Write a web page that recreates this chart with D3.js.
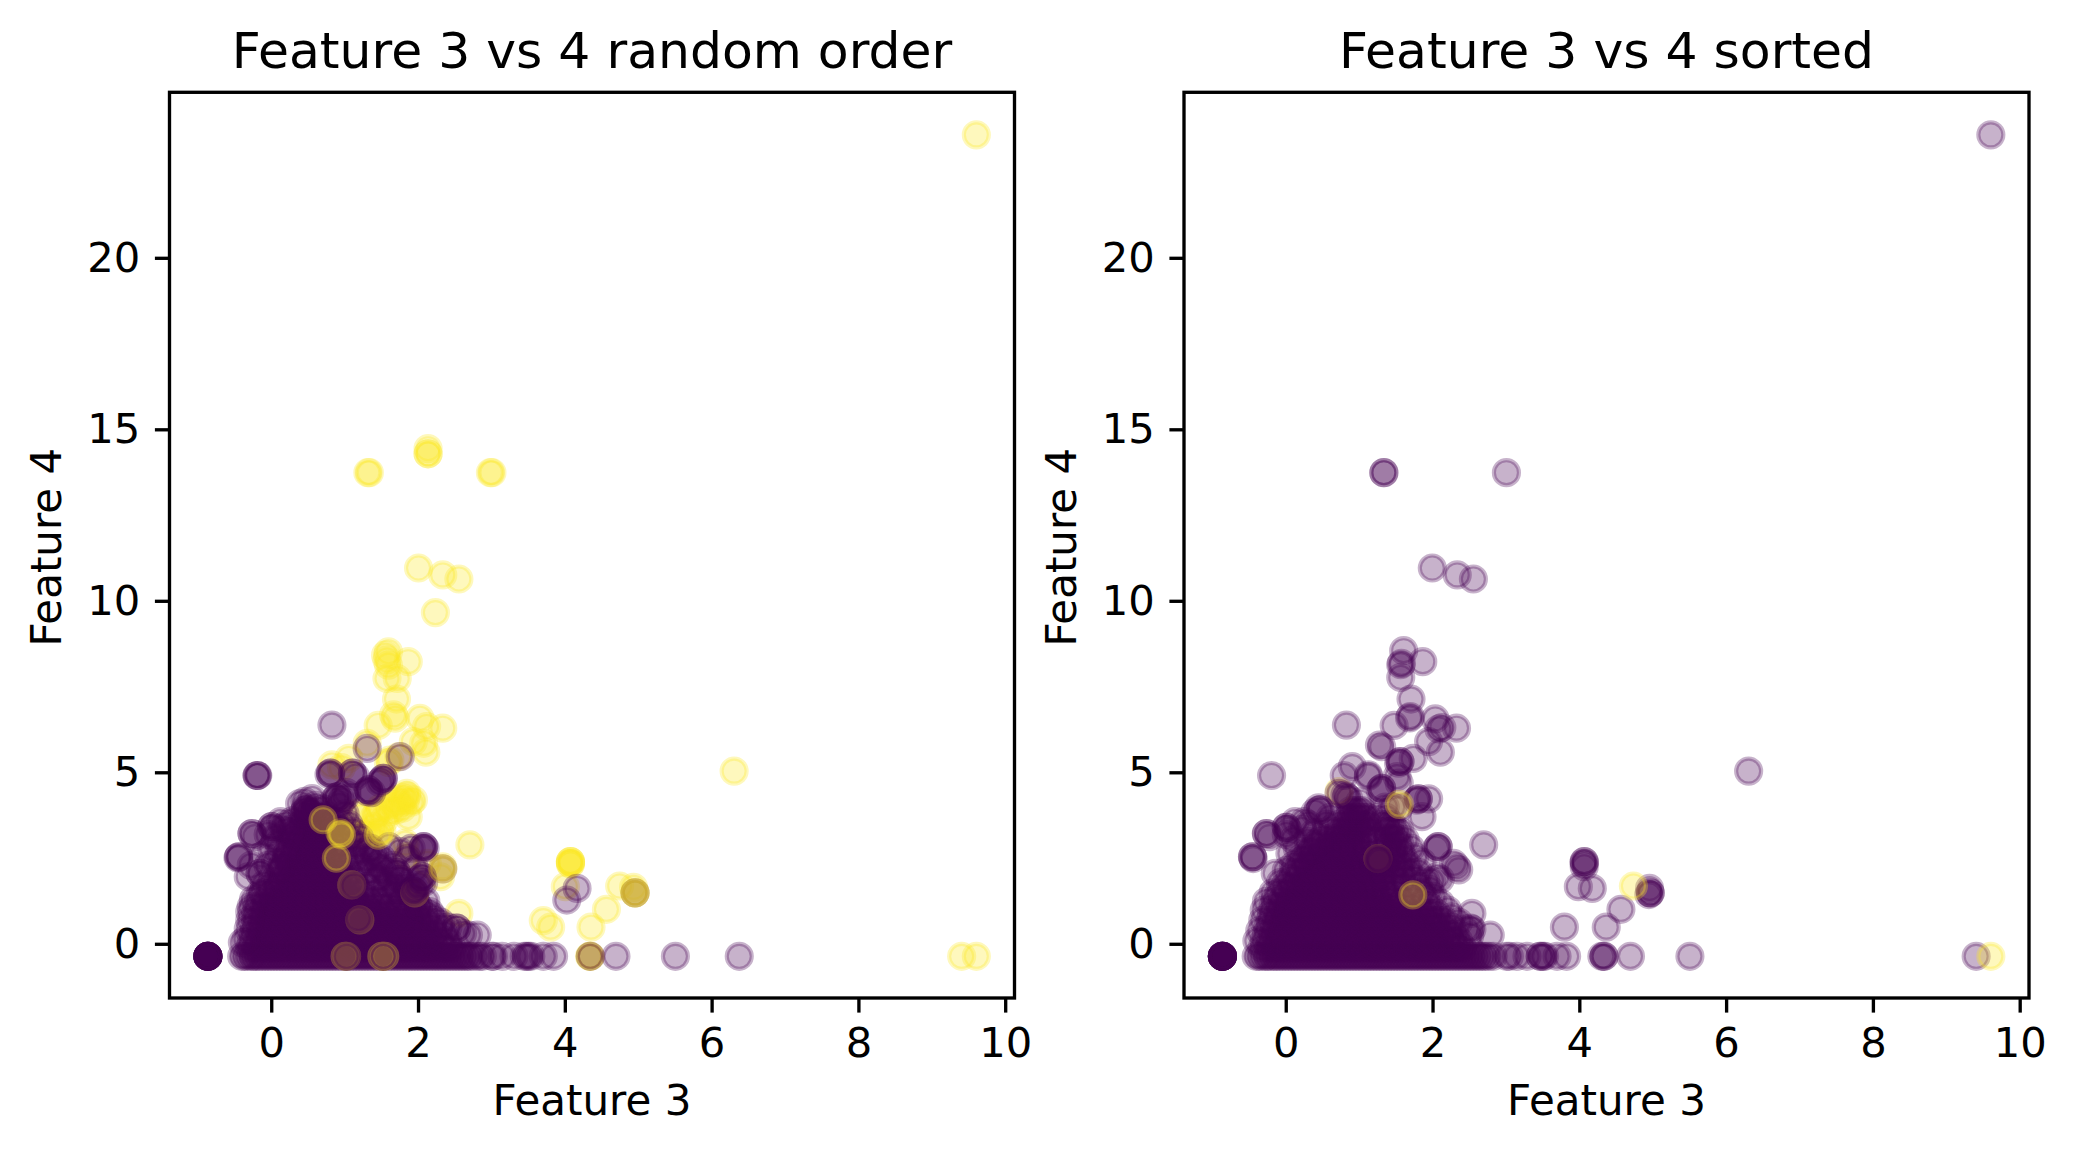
<!DOCTYPE html>
<html>
  <head>
    <meta charset="utf-8">
    <title>Feature 3 vs 4</title>
    <style>
      body { margin: 0; background: #fff; }
      text { font-family: "DejaVu Sans"; fill: #000; }
    </style>
  </head>
  <body>
    <script src="https://d3js.org/d3.v7.min.js"></script>
    <svg id="chart" width="2075" height="1154"></svg>
    <script>
      // values: [feature 3, feature 4]
      const xTicks = [0, 2, 4, 6, 8, 10]
      const yTicks = [0, 5, 10, 15, 20]
      const xDomain = [-1.393, 10.12]
      const yDomain = [-1.566, 24.84]

      // the rows of the dense mass: one feature 4 level, then its feature 3 values
      const coreLevels = [-0.1, 0.1, 0.3, 0.5, 0.7, 0.9, 1.1, 1.3, 1.5, 1.7, 1.9, 2.1, 2.3, 2.5, 2.7, 2.9, 3.1, 3.3, 3.5, 3.7, 3.9]

      const baseline = [-0.41, -0.37, -0.33, -0.28, -0.25, -0.21, -0.17, -0.13, -0.09, -0.05, -0.01, 0.03, 0.07, 0.11, 0.15, 0.19, 0.23, 0.27, 0.31, 0.35, 0.39, 0.43, 0.47, 0.51, 0.55, 0.59, 0.63, 0.67, 0.71, 0.75, 0.79, 0.83, 0.87, 0.91, 0.95, 0.99, 1.03, 1.07, 1.11, 1.15, 1.19, 1.23, 1.27, 1.31, 1.35, 1.39, 1.43, 1.47, 1.51, 1.55, 1.59, 1.63, 1.67, 1.71, 1.75, 1.79, 1.83, 1.87, 1.91, 1.95, 1.99, 2.03, 2.07, 2.11, 2.15, 2.19, 2.23, 2.27, 2.31, 2.35, 2.39, 2.43, 2.47, 2.51, 2.55, 2.59, 2.63, 2.67, 2.71]
      const lowLeft = [-0.87, -0.87, -0.87, -0.87, -0.87, -0.87, -0.87, -0.87, -0.87, -0.87, -0.87, -0.87, -0.87, -0.87]

      const leftCore = [
        [-0.3, -0.22, -0.13, -0.04, 0.05, 0.14, 0.23, 0.33, 0.42, 0.51, 0.6, 0.69, 0.78, 0.88, 0.97, 1.06, 1.15, 1.24, 1.33, 1.43, 1.52, 1.61, 1.7, 1.8, 1.89, 1.98, 2.07, 2.16, 2.26, 2.35, 2.45],
        [-0.28, -0.19, -0.1, -0.01, 0.08, 0.17, 0.26, 0.36, 0.45, 0.54, 0.63, 0.72, 0.81, 0.91, 1.0, 1.09, 1.18, 1.27, 1.37, 1.46, 1.55, 1.64, 1.73, 1.83, 1.92, 2.01, 2.1, 2.19, 2.29, 2.4],
        [-0.25, -0.16, -0.07, 0.02, 0.11, 0.2, 0.3, 0.39, 0.48, 0.57, 0.66, 0.75, 0.85, 0.94, 1.03, 1.12, 1.21, 1.3, 1.4, 1.49, 1.58, 1.67, 1.76, 1.86, 1.95, 2.04, 2.13, 2.23, 2.35],
        [-0.24, -0.15, -0.06, 0.03, 0.12, 0.22, 0.31, 0.4, 0.49, 0.58, 0.68, 0.77, 0.86, 0.95, 1.04, 1.14, 1.23, 1.32, 1.41, 1.5, 1.6, 1.69, 1.78, 1.87, 1.97, 2.06, 2.18, 2.3],
        [-0.22, -0.13, -0.04, 0.06, 0.15, 0.24, 0.33, 0.42, 0.52, 0.61, 0.7, 0.79, 0.88, 0.98, 1.07, 1.16, 1.25, 1.34, 1.44, 1.53, 1.62, 1.71, 1.8, 1.9, 2.0, 2.1, 2.2],
        [-0.22, -0.12, -0.03, 0.07, 0.16, 0.25, 0.34, 0.44, 0.53, 0.62, 0.71, 0.81, 0.9, 0.99, 1.08, 1.18, 1.27, 1.36, 1.45, 1.55, 1.64, 1.74, 1.85, 1.97, 2.1],
        [-0.2, -0.1, 0.0, 0.09, 0.18, 0.28, 0.37, 0.46, 0.56, 0.65, 0.74, 0.84, 0.93, 1.02, 1.12, 1.21, 1.31, 1.4, 1.5, 1.6, 1.72, 1.86, 2.0],
        [-0.18, -0.08, 0.02, 0.11, 0.2, 0.3, 0.39, 0.48, 0.58, 0.67, 0.76, 0.86, 0.95, 1.05, 1.14, 1.24, 1.34, 1.46, 1.6, 1.78, 1.95],
        [-0.12, -0.02, 0.07, 0.17, 0.26, 0.36, 0.45, 0.55, 0.64, 0.74, 0.83, 0.93, 1.02, 1.12, 1.22, 1.36, 1.54, 1.72, 1.9],
        [-0.02, 0.07, 0.17, 0.26, 0.36, 0.45, 0.55, 0.64, 0.74, 0.83, 0.93, 1.03, 1.14, 1.3, 1.68, 1.85],
        [0.05, 0.14, 0.24, 0.33, 0.43, 0.52, 0.62, 0.71, 0.81, 0.9, 1.0, 1.12, 1.42, 1.62, 1.75],
        [0.1, 0.2, 0.29, 0.39, 0.48, 0.58, 0.67, 0.77, 0.86, 0.96, 1.08, 1.28, 1.55, 1.7],
        [0.15, 0.24, 0.34, 0.43, 0.53, 0.62, 0.72, 0.81, 0.91, 1.02, 1.22, 1.45],
        [0.2, 0.29, 0.39, 0.48, 0.58, 0.67, 0.77, 0.86, 0.98, 1.15, 1.4],
        [0.22, 0.32, 0.41, 0.51, 0.6, 0.7, 0.8, 0.92, 1.12, 1.3],
        [0.25, 0.35, 0.45, 0.54, 0.64, 0.73, 0.84, 0.98, 1.15],
        [0.3, 0.4, 0.49, 0.59, 0.68, 0.78, 0.9, 1.05],
        [0.35, 0.44, 0.54, 0.63, 0.73, 0.84, 0.95],
        [0.4, 0.5, 0.58, 0.68, 0.76, 0.85],
        [0.47, 0.55, 0.65],
        []
      ]

      const rightCore = [
        [-0.33, -0.24, -0.15, -0.06, 0.03, 0.12, 0.21, 0.31, 0.4, 0.49, 0.58, 0.67, 0.76, 0.86, 0.95, 1.04, 1.13, 1.22, 1.31, 1.41, 1.5, 1.59, 1.68, 1.78, 1.87, 1.96, 2.05, 2.14, 2.24, 2.32, 2.4],
        [-0.3, -0.21, -0.12, -0.03, 0.06, 0.15, 0.25, 0.34, 0.43, 0.52, 0.61, 0.71, 0.8, 0.89, 0.98, 1.07, 1.17, 1.26, 1.35, 1.44, 1.53, 1.63, 1.72, 1.81, 1.9, 1.99, 2.09, 2.18, 2.27, 2.35],
        [-0.27, -0.18, -0.09, 0.0, 0.09, 0.19, 0.28, 0.37, 0.46, 0.55, 0.65, 0.74, 0.83, 0.92, 1.01, 1.11, 1.2, 1.29, 1.38, 1.47, 1.57, 1.66, 1.75, 1.84, 1.93, 2.03, 2.12, 2.22, 2.3],
        [-0.25, -0.16, -0.07, 0.03, 0.12, 0.21, 0.3, 0.39, 0.49, 0.58, 0.67, 0.76, 0.85, 0.95, 1.04, 1.13, 1.22, 1.31, 1.41, 1.5, 1.59, 1.68, 1.77, 1.87, 1.96, 2.05, 2.15, 2.25],
        [-0.22, -0.13, -0.03, 0.06, 0.15, 0.24, 0.34, 0.43, 0.52, 0.61, 0.71, 0.8, 0.89, 0.98, 1.08, 1.17, 1.26, 1.35, 1.45, 1.54, 1.63, 1.72, 1.82, 1.91, 2.0, 2.08, 2.15],
        [-0.2, -0.11, -0.01, 0.08, 0.17, 0.27, 0.36, 0.45, 0.55, 0.64, 0.73, 0.83, 0.92, 1.01, 1.11, 1.2, 1.29, 1.39, 1.48, 1.57, 1.67, 1.76, 1.86, 1.96, 2.05],
        [-0.18, -0.08, 0.01, 0.11, 0.2, 0.29, 0.39, 0.48, 0.57, 0.67, 0.76, 0.85, 0.95, 1.04, 1.13, 1.23, 1.32, 1.41, 1.51, 1.6, 1.7, 1.82, 1.95],
        [-0.15, -0.05, 0.04, 0.14, 0.23, 0.33, 0.42, 0.51, 0.61, 0.7, 0.79, 0.89, 0.98, 1.07, 1.17, 1.26, 1.36, 1.46, 1.58, 1.72, 1.9],
        [-0.1, 0.0, 0.09, 0.19, 0.28, 0.38, 0.47, 0.57, 0.66, 0.76, 0.85, 0.95, 1.04, 1.14, 1.24, 1.35, 1.48, 1.68, 1.85],
        [-0.02, 0.08, 0.17, 0.27, 0.36, 0.46, 0.55, 0.65, 0.74, 0.84, 0.93, 1.03, 1.12, 1.22, 1.33, 1.47, 1.62, 1.8],
        [0.05, 0.15, 0.25, 0.34, 0.44, 0.53, 0.63, 0.72, 0.82, 0.91, 1.01, 1.1, 1.2, 1.32, 1.48, 1.6, 1.75],
        [0.1, 0.2, 0.3, 0.39, 0.49, 0.58, 0.68, 0.77, 0.87, 0.96, 1.06, 1.16, 1.3, 1.44, 1.56, 1.67],
        [0.18, 0.27, 0.37, 0.47, 0.56, 0.66, 0.75, 0.85, 0.95, 1.05, 1.17, 1.35, 1.46, 1.56, 1.66],
        [0.25, 0.35, 0.44, 0.54, 0.63, 0.73, 0.82, 0.92, 1.02, 1.14, 1.38, 1.48, 1.6],
        [0.3, 0.4, 0.49, 0.59, 0.68, 0.78, 0.88, 0.98, 1.08, 1.36, 1.46, 1.56],
        [0.4, 0.5, 0.59, 0.69, 0.78, 0.88, 0.98, 1.08, 1.38, 1.47, 1.55],
        [0.5, 0.6, 0.69, 0.78, 0.87, 0.97, 1.06, 1.38, 1.45, 1.5],
        [0.62, 0.71, 0.8, 0.9, 0.98, 1.06, 1.36, 1.42, 1.5],
        [0.72, 0.8, 0.88, 0.95, 1.03, 1.1, 1.38, 1.44],
        [0.8, 0.86, 0.92, 0.98, 1.04, 1.1, 1.36],
        [0.88, 0.93, 0.98, 1.03]
      ]

      // thinner cloud round the edge of the mass
      const leftHalo = [
        [-0.05, 3.2], [0.05, 3.1], [0.1, 2.95], [0.0, 2.8], [0.1, 2.7], [0.18, 3.3], [0.28, 3.6], [0.15, 3.4], [0.3, 3.2], [0.2, 2.6],
        [0.05, 2.4], [-0.05, 2.3], [0.12, 2.2], [-0.1, 1.75], [-0.15, 1.5], [-0.25, 1.3], [-0.28, 1.1], [-0.3, 0.95], [-0.3, 0.7], [-0.32, 0.45],
        [-0.35, 0.15], [-0.4, 0.05], [0.6, 4.05], [0.7, 3.95], [0.55, 3.85], [0.75, 3.75], [0.85, 3.6], [0.95, 3.55], [1.0, 3.8], [1.05, 3.5],
        [1.1, 3.3], [0.65, 3.7], [0.8, 3.45], [0.9, 3.35], [1.2, 3.1], [1.25, 2.9], [1.35, 2.8], [1.4, 2.65], [1.3, 2.5], [1.5, 2.5],
        [1.6, 2.85], [1.5, 2.2], [1.65, 2.3], [1.7, 2.1], [1.75, 1.9], [1.35, 2.15], [1.45, 1.95], [1.55, 1.75], [1.7, 1.6], [1.85, 1.55],
        [1.95, 1.35], [2.1, 1.25], [2.0, 1.1], [2.15, 0.95], [2.2, 0.8], [2.3, 0.65], [2.4, 0.5], [1.85, 2.5], [1.95, 2.2], [1.9, 2.8], [1.75, 2.7]
      ]

      const rightHalo = [
        [0.0, 3.2], [0.1, 3.05], [0.15, 2.8], [0.05, 2.65], [0.22, 3.35], [0.3, 3.5], [0.38, 3.25], [0.3, 3.0], [0.2, 2.5], [0.1, 2.3],
        [0.0, 2.15], [-0.08, 1.8], [-0.18, 1.5], [-0.27, 1.25], [-0.3, 1.0], [-0.32, 0.7], [-0.36, 0.4], [-0.4, 0.1], [0.35, 2.75], [0.45, 3.0],
        [0.55, 3.5], [0.6, 3.7], [1.15, 3.3], [1.2, 3.0], [1.25, 2.7], [1.2, 2.4], [1.25, 2.2], [1.3, 2.0], [1.3, 3.5], [1.25, 3.7],
        [1.55, 3.3], [1.62, 3.05], [1.7, 2.8], [1.75, 2.55], [1.85, 2.4], [1.8, 2.1], [1.9, 1.85], [1.95, 1.6], [2.0, 1.4], [2.1, 1.2],
        [2.2, 1.0], [2.25, 0.8], [2.35, 0.65], [2.45, 0.45], [2.5, 0.25], [1.45, 4.0], [1.35, 4.0], [1.0, 4.15]
      ]

      const leftYellowUnder = [
        [2.23, 9.67], [1.59, 8.53], [1.55, 8.43], [1.57, 8.29], [1.86, 8.24], [1.59, 8.14], [1.57, 7.75], [1.71, 7.75],
        [1.7, 7.15], [1.66, 6.69], [1.68, 6.59], [1.45, 6.38], [2.02, 6.59], [2.11, 6.35], [2.33, 6.3], [1.93, 5.91],
        [2.07, 5.86], [2.1, 5.6], [1.3, 5.86], [1.05, 5.42], [0.82, 5.23], [0.95, 5.15], [1.61, 5.37], [1.59, 5.3], [1.73, 5.47],
        [1.84, 4.4], [1.82, 4.21], [1.75, 4.12], [1.66, 4.07], [1.57, 4.02], [1.48, 3.97], [1.43, 3.82], [1.86, 3.72],
        [1.93, 4.21], [1.2, 3.72], [1.15, 3.82], [1.38, 3.43], [1.47, 3.28], [1.32, 3.24], [1.25, 3.19], [1.12, 3.24],
        [1.84, 4.33], [1.78, 4.28], [1.7, 4.21], [1.9, 4.14], [1.62, 3.87], [1.7, 3.92], [1.78, 3.97], [1.53, 3.62], [1.4, 3.72],
        [2.7, 2.9], [1.82, 2.95], [1.84, 2.56], [2.12, 2.36], [2.33, 2.26], [2.3, 1.97], [2.55, 0.9],
        [3.7, 0.69], [3.8, 0.5], [4.07, 2.41], [4.07, 2.41], [4.07, 2.41], [4.07, 2.35], [4.07, 2.35], [4.0, 1.68],
        [4.74, 1.7], [4.93, 1.66], [4.56, 1.02], [4.35, 0.5], [4.34, -0.35], [4.34, -0.35], [4.33, -0.35],
        [4.95, 1.5], [4.95, 1.5], [1.33, 13.75], [1.31, 13.75], [3.0, 13.75], [2.98, 13.75],
        [2.13, 14.45], [2.13, 14.3], [2.13, 14.3], [2.0, 10.97], [2.33, 10.77], [2.55, 10.65], [6.3, 5.05], [9.6, 23.6],
        [9.4, -0.35], [9.6, -0.35]
      ]

      // yellow points that are buried in the mass, mostly covered by later purple
      const leftYellowBuried = [
        [1.09, 1.73], [1.2, 0.71], [1.02, -0.35], [1.0, -0.35], [1.52, -0.35], [1.54, -0.35], [1.5, -0.35], [1.95, 1.5], [1.45, 3.18], [1.5, 3.3], [0.93, 3.25]
      ]

      const leftPurple = [
        [1.09, 1.73], [1.12, 1.7], [1.2, 0.71], [1.18, 0.75], [1.02, -0.35], [1.01, -0.35], [1.52, -0.35], [1.52, -0.35], [1.95, 1.5], [1.93, 1.55],
        [0.82, 6.39], [-0.2, 4.92], [-0.2, 4.92], [-0.19, 4.92], [1.3, 5.71], [1.75, 5.47],
        [0.8, 4.99], [0.8, 4.99], [0.78, 4.95], [1.1, 4.99], [1.1, 4.99], [1.14, 4.9], [1.52, 4.84], [1.52, 4.84], [1.5, 4.78],
        [1.47, 4.72], [1.32, 4.5], [1.32, 4.5], [1.3, 4.45], [1.36, 4.42], [0.89, 4.3], [0.89, 4.3], [0.93, 4.25], [0.96, 4.2],
        [0.85, 4.2], [1.02, 4.42], [1.0, 4.3], [0.92, 4.05],
        [2.07, 2.85], [2.07, 2.85], [2.05, 2.8], [2.09, 2.8], [2.33, 2.2], [2.05, 1.97], [2.05, 1.97],
        [2.02, 1.9], [2.07, 1.8], [2.0, 1.72], [1.95, 1.6], [-0.45, 2.55], [-0.45, 2.55], [-0.46, 2.52],
        [-0.27, 3.23], [-0.27, 3.23], [-0.23, 3.14], [0.0, 3.43], [0.0, 3.43], [0.02, 3.38], [0.12, 3.58], [0.2, 3.5], [0.26, 3.35],
        [0.38, 4.1], [0.45, 4.17], [0.55, 4.25], [0.46, 3.98], [0.46, 3.92], [0.48, 3.92], [0.5, 3.85], [0.42, 3.8], [0.6, 3.95],
        [-0.16, 2.07], [-0.16, 2.07], [-0.32, 1.97], [-0.28, 2.3], [-0.12, 2.6],
        [4.16, 1.63], [4.02, 1.29], [4.34, -0.35], [4.69, -0.35], [4.95, 1.5],
        [2.52, 0.47], [2.52, 0.47], [2.6, 0.32], [2.68, 0.27], [2.8, 0.27],
        [2.77, -0.35], [2.83, -0.35], [2.87, -0.35], [3.0, -0.35], [3.02, -0.35], [3.14, -0.35], [3.3, -0.35],
        [3.44, -0.35], [3.47, -0.35], [3.5, -0.35], [3.53, -0.35], [3.7, -0.35], [3.84, -0.35], [5.5, -0.35], [6.37, -0.35]
      ]

      const leftYellowOver = [
        [0.7, 3.63], [0.88, 2.51], [0.95, 3.19], [2.33, 2.2], [4.95, 1.5]
      ]

      const rightPurple = [
        [1.25, 2.5], [1.25, 2.5], [1.26, 2.48], [1.27, 2.42], [0.72, 4.4], [0.8, 4.35], [0.85, 4.25],
        [0.82, 6.39], [-0.2, 4.92], [1.6, 8.56], [1.57, 8.19], [1.56, 8.15], [1.86, 8.24], [1.56, 7.78], [1.7, 7.15],
        [1.69, 6.64], [1.68, 6.6], [1.47, 6.38], [2.03, 6.57], [2.12, 6.32], [2.08, 6.28], [2.32, 6.3], [1.94, 5.91], [2.1, 5.6],
        [1.27, 5.81], [1.3, 5.76], [1.55, 5.33], [1.55, 5.33], [1.53, 5.28], [1.73, 5.42], [0.9, 5.18], [0.79, 4.92], [1.12, 4.94], [1.12, 4.9],
        [1.3, 4.55], [1.3, 4.55], [1.28, 4.5], [1.51, 4.89], [1.54, 4.7], [1.8, 4.24], [1.8, 4.24], [1.78, 4.2], [1.94, 4.24],
        [1.53, 3.95], [1.85, 3.72], [0.82, 4.3], [0.46, 3.92], [0.46, 3.92], [0.44, 3.98], [0.39, 3.85], [0.0, 3.41], [0.0, 3.41], [0.02, 3.35],
        [0.12, 3.58], [0.24, 3.58], [-0.27, 3.23], [-0.27, 3.23], [-0.23, 3.14], [-0.46, 2.55], [-0.46, 2.55], [-0.45, 2.5],
        [-0.15, 2.07], [2.69, 2.9], [2.07, 2.85], [2.07, 2.85], [2.05, 2.8], [2.28, 2.36], [2.32, 2.26], [2.35, 2.17], [2.05, 1.97], [1.98, 1.85], [2.1, 1.9],
        [2.53, 0.9], [2.53, 0.44], [2.51, 0.47], [2.78, 0.27], [4.06, 2.41], [4.06, 2.41], [4.06, 2.36], [4.06, 2.26], [3.98, 1.68], [4.17, 1.63],
        [4.95, 1.63], [4.96, 1.5], [4.96, 1.5], [4.94, 1.45], [4.56, 1.02], [4.36, 0.5], [3.79, 0.5],
        [2.76, -0.35], [2.82, -0.35], [3.0, -0.35], [3.04, -0.35], [3.14, -0.35], [3.28, -0.35], [3.46, -0.35], [3.46, -0.35], [3.5, -0.35], [3.52, -0.35],
        [3.69, -0.35], [3.82, -0.35], [4.33, -0.35], [4.33, -0.35], [4.3, -0.35], [4.69, -0.35], [5.5, -0.35], [9.4, -0.35],
        [1.33, 13.75], [1.33, 13.75], [3.0, 13.75], [1.99, 10.97], [2.33, 10.77], [2.55, 10.65], [6.3, 5.05], [9.6, 23.6]
      ]

      const rightYellowBuried = [[0.72, 4.45], [1.25, 2.5]]
      const rightYellow = [[1.54, 4.08], [1.725, 1.44], [4.73, 1.7], [9.6, -0.35]]

      const color = d3.scaleOrdinal().domain(['purple', 'yellow']).range(['#440154', '#fde725'])

      // turn the core rows into points
      function corePoints(rows) {
        let pts = baseline.map(x => [x, -0.35])
        rows.forEach((row, i) => row.forEach(x => pts.push([x, coreLevels[i]])))
        return pts
      }

      const tag = (pts, cls) => pts.map(p => ({x: p[0], y: p[1], cls}))
      const low = lowLeft.map(x => [x, -0.35])

      const panels = [
        {
          title: 'Feature 3 vs 4 random order',
          left: 169.5,
          points: tag(leftYellowUnder, 'yellow').concat(
            tag(low, 'purple'), tag(corePoints(leftCore), 'purple'), tag(leftHalo, 'purple'),
            tag(leftYellowBuried, 'yellow'), tag(leftPurple, 'purple'), tag(leftYellowOver, 'yellow'))
        },
        {
          title: 'Feature 3 vs 4 sorted',
          left: 1184,
          points: tag(low, 'purple').concat(
            tag(corePoints(rightCore), 'purple'), tag(rightHalo, 'purple'), tag(rightYellowBuried, 'yellow'),
            tag(rightPurple, 'purple'), tag(rightYellow, 'yellow'))
        }
      ]

      const plotWidth = 845
      const plotHeight = 905.7
      const plotTop = 92.3
      const svg = d3.select('#chart')

      const y = d3.scaleLinear().domain(yDomain).range([plotHeight, 0])
      const x = d3.scaleLinear().domain(xDomain).range([0, plotWidth])

      panels.forEach(panel => {
        const g = svg.append('g').attr('transform', `translate(${panel.left},${plotTop})`)

        g.selectAll('circle')
          .data(panel.points)
          .join('circle')
          .attr('cx', d => x(d.x))
          .attr('cy', d => y(d.y))
          .attr('r', 12.5)
          .attr('fill', d => color(d.cls))
          .attr('fill-opacity', 0.3)
          .attr('stroke', d => color(d.cls))
          .attr('stroke-opacity', 0.3)
          .attr('stroke-width', 4.17)

        g.append('rect')
          .attr('width', plotWidth)
          .attr('height', plotHeight)
          .attr('fill', 'none')
          .attr('stroke', '#000')
          .attr('stroke-width', 3.33)

        const xAxis = g.append('g')
          .attr('transform', `translate(0,${plotHeight})`)
          .call(d3.axisBottom(x).tickValues(xTicks).tickFormat(d3.format('d')).tickSize(14.6).tickPadding(14.6).offset(0))
        const yAxis = g.append('g')
          .call(d3.axisLeft(y).tickValues(yTicks).tickFormat(d3.format('d')).tickSize(14.6).tickPadding(14.6).offset(0))

        for (const axis of [xAxis, yAxis]) {
          axis.attr('font-family', null).attr('font-size', null)
          axis.select('.domain').remove()
          axis.selectAll('line').attr('stroke', '#000').attr('stroke-width', 3.33)
          axis.selectAll('text').style('font-size', '41.67px')
        }

        g.append('text')
          .attr('x', plotWidth / 2)
          .attr('y', -24)
          .attr('text-anchor', 'middle')
          .style('font-size', '50.4px')
          .text(panel.title)

        g.append('text')
          .attr('x', plotWidth / 2)
          .attr('y', 1115 - plotTop)
          .attr('text-anchor', 'middle')
          .style('font-size', '42px')
          .text('Feature 3')

        g.append('text')
          .attr('transform', `translate(-108.5,${plotHeight / 2 + 2}) rotate(-90)`)
          .attr('text-anchor', 'middle')
          .style('font-size', '42px')
          .text('Feature 4')
      })
    </script>
  </body>
</html>
